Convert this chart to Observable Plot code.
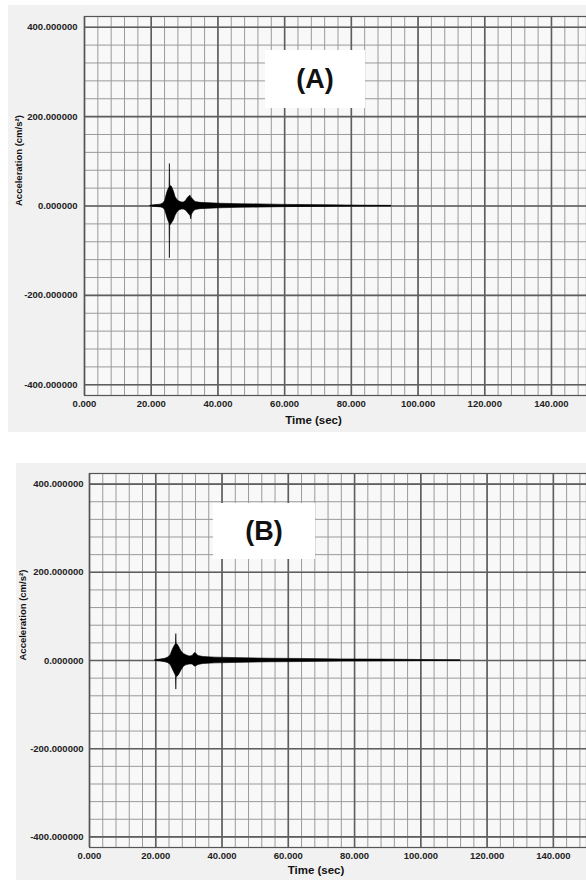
<!DOCTYPE html>
<html><head><meta charset="utf-8">
<script src="https://cdn.jsdelivr.net/npm/d3@7"></script>
<script src="https://cdn.jsdelivr.net/npm/@observablehq/plot@0.6"></script>
<style>
body{margin:0;background:#fff;width:586px;height:880px;overflow:hidden;position:relative;font-family:"Liberation Sans",Arial,sans-serif}
.panel{position:absolute;background:#f1f1f1}
.tag{position:absolute;background:#fff;font-weight:bold;font-size:27px;display:flex;align-items:center;justify-content:center;color:#111;font-family:"Liberation Sans",Arial,sans-serif}
.chart{position:absolute;left:0}
</style></head><body>
<div class="panel" style="left:8px;top:5px;width:578px;height:427px"></div>
<div class="panel" style="left:16px;top:463px;width:570px;height:417px"></div>
<div id="a" class="chart" style="top:0"></div>
<div id="b" class="chart" style="top:460px"></div>
<div class="tag" style="left:265px;top:50px;width:100px;height:58px">(A)</div>
<div class="tag" style="left:213px;top:503px;width:102px;height:56px">(B)</div>
<script>
// tick values
const xTicks = [0, 20, 40, 60, 80, 100, 120, 140];
const yTicks = [-400, -200, 0, 200, 400];
const xMinorStep = 4;
const yMinorStep = 40;

// Record (A): time (s), upper and lower envelope of acceleration (cm/s²)
const timeA = [19.8, 21.3, 22.8, 23.7, 24.2, 24.6, 25.0, 25.4, 25.5, 25.6, 25.7, 26.1, 26.5, 26.9, 27.3, 27.8, 28.4, 29.2, 29.8, 30.4, 31.0, 31.5, 31.8, 32.0, 32.2, 32.6, 33.3, 34.8, 37.8, 40.8, 46.8, 52.8, 60, 66, 74, 83, 92];
const highA = [0.5, 2, 3, 6, 12, 24, 34, 40, 42, 94, 44, 44, 38, 30, 20, 14, 10, 8, 8, 11, 18, 22, 23, 18, 18, 14, 9, 7, 6, 5, 4, 3.5, 2.5, 2, 1.5, 0.8, 0.3];
const lowA  = [-0.5, -2, -3, -5, -10, -20, -30, -38, -40, -117, -44, -40, -36, -30, -22, -15, -10, -8, -8, -10, -15, -20, -22, -30, -20, -14, -9, -7, -6, -5, -4, -3.5, -2.5, -2, -1.5, -0.8, -0.3];

// Record (B)
const timeB = [19.9, 21.4, 22.9, 23.8, 24.5, 25.0, 25.5, 25.9, 26.1, 26.2, 26.3, 26.7, 27.1, 27.8, 28.5, 29.2, 30.2, 31.1, 31.7, 32.0, 32.5, 32.9, 34.4, 38, 47, 55, 64, 76, 88, 100, 112];
const highB = [1, 2, 4, 7, 12, 22, 30, 35, 38, 60, 38, 35, 30, 20, 15, 12, 9, 10, 16, 17, 13, 10, 8, 6.5, 5, 4, 3.5, 2.5, 2, 1.2, 0.3];
const lowB  = [-1, -2, -4, -6, -10, -18, -26, -32, -36, -66, -38, -36, -32, -22, -14, -11, -9, -9, -13, -14, -12, -10, -8, -6.5, -5, -4, -3.5, -2.5, -2, -1.2, -0.3];

function panel(t, hi, lo, o) {
  const data = t.map((d, i) => ({t: d, hi: hi[i], lo: lo[i]}));
  const minorX = d3.range(0, o.xmax + 0.01, xMinorStep);
  const minorY = d3.range(-400, 401, yMinorStep);
  return Plot.plot({
    width: 586, height: o.height,
    marginLeft: o.ml, marginRight: 0, marginTop: o.mt, marginBottom: o.mb,
    style: {background: "transparent", fontFamily: "Liberation Sans, Arial, sans-serif", color: "#222", overflow: "visible"},
    x: {domain: [0, o.xmax]},
    y: {domain: [-424, 424]},
    marks: [
      Plot.frame({fill: "#f8f8f8"}),
      Plot.gridX(minorX, {stroke: "#9a9a9a", strokeOpacity: 1, strokeWidth: 1}),
      Plot.gridY(minorY, {stroke: "#9a9a9a", strokeOpacity: 1, strokeWidth: 1}),
      Plot.gridX(xTicks, {stroke: "#5e5e5e", strokeOpacity: 1, strokeWidth: 1.6}),
      Plot.gridY(yTicks, {stroke: "#5e5e5e", strokeOpacity: 1, strokeWidth: 1.6}),
      Plot.frame({stroke: "#555", strokeWidth: 1.2}),
      Plot.ruleY([0], {x1: t[0], x2: t[t.length - 1], stroke: "#222", strokeWidth: 1}),
      Plot.areaY(data, {x: "t", y1: "lo", y2: "hi", fill: "#000", stroke: "#000", strokeWidth: 0.6, curve: "linear"}),
      Plot.axisX(xTicks, {tickSize: 0, tickPadding: 5, tickFormat: d => d.toFixed(3), fontSize: 9.5, fontWeight: "bold", label: null}),
      Plot.axisY(yTicks, {tickSize: 0, tickPadding: o.typ, tickFormat: d => d.toFixed(6), fontSize: 9.5, fontWeight: "bold", label: null}),
      Plot.text(["Time (sec)"], {frameAnchor: "bottom", dx: -22, dy: o.xlabDy, fontSize: 11.5, fontWeight: "bold", fill: "#111"}),
      Plot.text(["Acceleration (cm/s²)"], {frameAnchor: "left", rotate: -90, dx: o.ylabDx, fontSize: 9.5, fontWeight: "bold", fill: "#111"})
    ]
  });
}

document.getElementById("a").append(panel(timeA, highA, lowA, {height: 440, ml: 84, mt: 16, mb: 45, xmax: 150.5, typ: 7, xlabDy: 28, ylabDx: -66}));
document.getElementById("b").append(panel(timeB, highB, lowB, {height: 420, ml: 89, mt: 13, mb: 33, xmax: 150, typ: 6, xlabDy: 26, ylabDx: -67}));
</script>
</body></html>
